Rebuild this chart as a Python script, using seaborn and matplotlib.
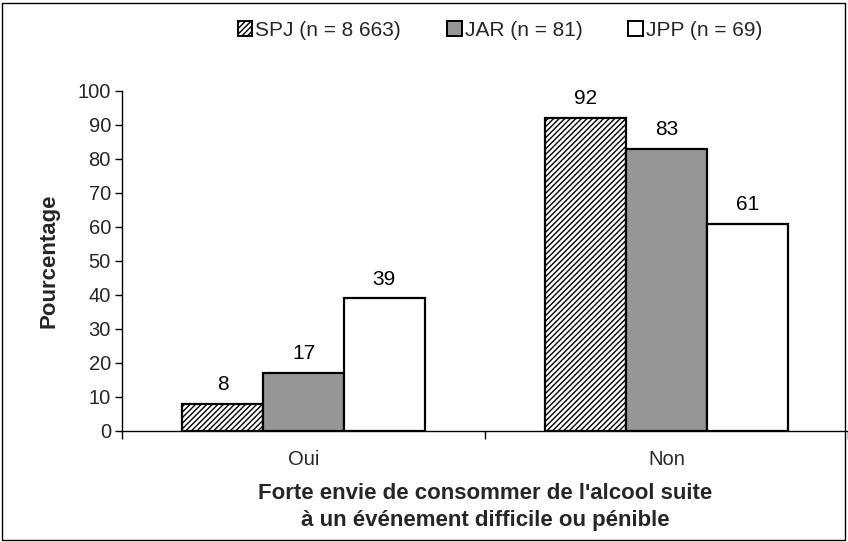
import matplotlib
matplotlib.use("Agg")
import matplotlib.pyplot as plt
import seaborn as sns
import pandas as pd
from matplotlib.patches import Rectangle, Patch

categories = ["Oui", "Non"]
series = ["SPJ (n = 8 663)", "JAR (n = 81)", "JPP (n = 69)"]
spj = [8, 92]
jar = [17, 83]
jpp = [39, 61]
y_ticks = [0, 10, 20, 30, 40, 50, 60, 70, 80, 90, 100]

rows = []
for s, vals in zip(series, [spj, jar, jpp]):
    for c, v in zip(categories, vals):
        rows.append({"cat": c, "serie": s, "val": v})
df = pd.DataFrame(rows)

sns.set_theme(style="white")
plt.rcParams["font.family"] = ["Liberation Sans", "DejaVu Sans"]
plt.rcParams["hatch.linewidth"] = 1.0

fig = plt.figure(figsize=(8.48, 5.42), dpi=100)
ax = fig.add_axes([122/848, (542-431)/542, (848-122)/848, (431-91)/542])

colors = ["white", "#969696", "white"]
sns.barplot(data=df, x="cat", y="val", hue="serie", palette=colors,
            order=categories, hue_order=series, width=0.667,
            edgecolor="black", linewidth=1.6, ax=ax, legend=False)

for bar in ax.containers[0]:
    bar.set_hatch("//////")

for cont in ax.containers:
    ax.bar_label(cont, labels=[f"{v:g}" for v in cont.datavalues],
                 padding=7, fontsize=15, color="black")

ax.set_xlim(-0.5, 1.5)
ax.set_ylim(0, 100)
ax.set_yticks(y_ticks)
ax.tick_params(axis="y", which="major", direction="out", length=5, width=1,
               color="black", labelsize=14.5, pad=3, left=True)
ax.tick_params(axis="x", which="major", length=0, labelsize=14.5, pad=14)
ax.set_xticks([-0.5, 0.5, 1.5], minor=True)
ax.tick_params(axis="x", which="minor", direction="out", length=6, width=1,
               color="black", bottom=True)

for sp in ["top", "right"]:
    ax.spines[sp].set_visible(False)
for sp in ["left", "bottom"]:
    ax.spines[sp].set_color("black")
    ax.spines[sp].set_linewidth(1)

ax.set_ylabel("Pourcentage", fontsize=16, fontweight="bold", labelpad=13)
ax.set_xlabel("Forte envie de consommer de l'alcool suite\nà un événement difficile ou pénible",
              fontsize=16, fontweight="bold", labelpad=10, linespacing=1.35)

handles = [Patch(facecolor="white", edgecolor="black", hatch="//////", linewidth=1.4),
           Patch(facecolor="#969696", edgecolor="black", linewidth=1.4),
           Patch(facecolor="white", edgecolor="black", linewidth=1.4)]
fig.legend(handles, series, loc="center", bbox_to_anchor=(500/848, 1 - 30/542),
           ncol=3, frameon=False, fontsize=15, handlelength=0.7, handleheight=0.7,
           handletextpad=0.15, columnspacing=2.2)

fig.patches.append(Rectangle((2/848, 2/542), 843/848, 537/542, transform=fig.transFigure,
                             fill=False, edgecolor="black", linewidth=1))

fig.savefig("out.png", dpi=100)
